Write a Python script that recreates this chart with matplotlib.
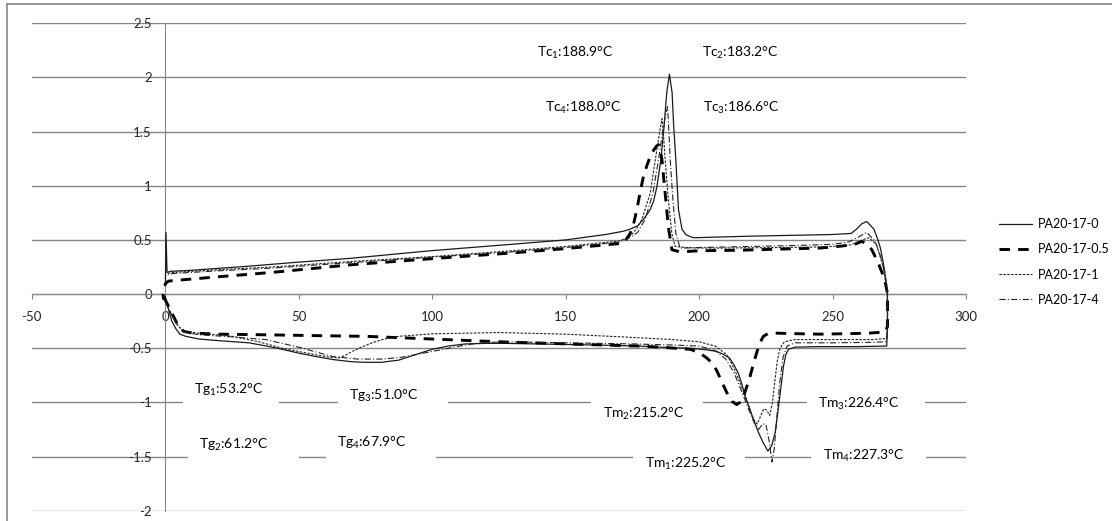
import numpy as np
import matplotlib
matplotlib.use("Agg")
import matplotlib.pyplot as plt
from matplotlib.lines import Line2D
from matplotlib.patches import Rectangle

plt.rcParams['font.family'] = ['Lato', 'DejaVu Sans']
plt.rcParams['mathtext.fontset'] = 'custom'
plt.rcParams['mathtext.rm'] = 'Lato'
plt.rcParams['mathtext.it'] = 'Lato'

names = ['PA20-17-0', 'PA20-17-0.5', 'PA20-17-1', 'PA20-17-4']

# each curve: heating branch (lower, 0 -> 270) then cooling branch (upper, 270 -> 0)
x0 = [0, 1, 2.5, 4, 5.5, 7.7, 12.7, 20, 31.4, 38, 43.9, 50, 56.3, 63, 70, 75, 81, 87.5, 93, 100,
      106, 112.5, 120, 127.4, 150, 170, 178, 185, 196.7, 203, 206.7, 209, 211.4, 213, 214.7, 216,
      217.3, 219, 220.4, 222.3, 224.1, 225.8, 227.2, 228.5, 229.3, 230.1, 231.6, 232.5, 233.5, 236,
      245, 260, 270.3,
      270.6, 270.5, 269.5, 268, 267, 265.5, 262.8, 261, 259, 257, 250, 240, 220, 205, 198, 196.7,
      195, 193.6, 192.3, 191.3, 190.5, 189.9, 188.9, 187.9, 186.9, 185.7, 184.2, 183, 181.7, 179.5,
      177, 174.2, 171.6, 165, 150, 130, 99.4, 69.4, 50, 30, 10, 2, 0.7, 0.3, 0.1]
y0 = [-0.02, -0.12, -0.25, -0.32, -0.37, -0.39, -0.415, -0.43, -0.45, -0.48, -0.51, -0.545, -0.576,
      -0.605, -0.625, -0.63, -0.63, -0.61, -0.565, -0.51, -0.48, -0.46, -0.455, -0.455, -0.465,
      -0.475, -0.48, -0.49, -0.5, -0.515, -0.53, -0.555, -0.59, -0.65, -0.73, -0.83, -0.945, -1.06,
      -1.16, -1.28, -1.376, -1.45, -1.4, -1.28, -1.13, -0.976, -0.67, -0.56, -0.51, -0.49, -0.485,
      -0.485, -0.48,
      -0.3, 0.0, 0.22, 0.42, 0.5, 0.6, 0.67, 0.65, 0.6, 0.56, 0.55, 0.545, 0.535, 0.525, 0.52, 0.53,
      0.55, 0.6, 0.78, 1.24, 1.55, 1.86, 2.03, 1.86, 1.55, 1.24, 0.99, 0.86, 0.78, 0.7, 0.63, 0.6,
      0.58, 0.55, 0.5, 0.46, 0.40, 0.33, 0.295, 0.255, 0.22, 0.21, 0.2, 0.57, 0.1]

x05 = [-0.5, 1, 3, 5, 7, 10.2, 20, 37.6, 60, 75.2, 100, 124.8, 150, 178, 185.4, 196.7, 200, 202.9,
       205, 206.7, 208.5, 210.4, 212.3, 214.1, 215.3, 216.6, 217.8, 219.1, 220.3, 221.6, 222.8,
       224.1, 225.8, 227.8, 235, 245, 257, 264, 269.5,
       270.6, 270.6, 269.6, 267.1, 264.7, 262.5, 260.9, 257.8, 250, 245.2, 230, 215, 200, 192.9,
       189.8, 188.5, 187.3, 186.1, 185.3, 184.8, 184.2, 183, 181.7, 180.5, 179.2, 178, 176.7, 175.5,
       174.2, 171.7, 150, 130, 99.4, 69.4, 40, 20, 3.3, 1.3, 0.2, -0.6, -0.8, -0.6]
y05 = [-0.03, -0.1, -0.2, -0.3, -0.345, -0.36, -0.37, -0.376, -0.385, -0.39, -0.415, -0.44, -0.46,
       -0.48, -0.49, -0.51, -0.54, -0.59, -0.64, -0.71, -0.81, -0.91, -0.99, -1.02, -1.0, -0.95,
       -0.86, -0.76, -0.65, -0.54, -0.45, -0.39, -0.365, -0.36, -0.365, -0.37, -0.365, -0.36, -0.35,
       -0.3, 0.0, 0.13, 0.29, 0.41, 0.47, 0.486, 0.455, 0.435, 0.425, 0.415, 0.405, 0.40, 0.39,
       0.41, 0.62, 0.93, 1.24, 1.35, 1.38, 1.37, 1.33, 1.27, 1.19, 1.09, 0.95, 0.78, 0.65, 0.56,
       0.47, 0.42, 0.38, 0.326, 0.27, 0.2, 0.16, 0.125, 0.12, 0.1, 0.05, 0.0, -0.05]

x1 = [-0.3, 1, 3, 5, 7, 12, 25.1, 35, 43.9, 50, 56.3, 61, 65, 67.5, 70, 73.5, 77.5, 82, 87.5, 100,
      124.9, 150, 175, 190, 200, 206, 210.4, 213, 215.4, 217.5, 219.1, 220.5, 221.8, 223, 224.2,
      225.3, 226.5, 227.5, 228.4, 229.3, 230.3, 232, 236, 250, 265, 270.2,
      270.6, 270.6, 269, 266.5, 263.7, 261, 257, 250, 245, 230, 210, 200, 195, 191, 189.8, 188.5,
      187.3, 186.6, 186.1, 185.2, 183.6, 181.7, 178.6, 176.5, 174, 170, 150, 130, 99.4, 69.4, 40,
      20, 3, 0.5]
y1 = [-0.05, -0.12, -0.22, -0.3, -0.34, -0.36, -0.39, -0.44, -0.5, -0.53, -0.56, -0.58, -0.59,
      -0.565, -0.53, -0.49, -0.45, -0.415, -0.39, -0.367, -0.355, -0.37, -0.4, -0.42, -0.44, -0.48,
      -0.56, -0.68, -0.82, -0.96, -1.07, -1.16, -1.2, -1.13, -1.06, -1.07, -1.12, -1.0, -0.8, -0.62,
      -0.5, -0.44, -0.42, -0.42, -0.42, -0.41,
      -0.3, 0.0, 0.25, 0.455, 0.52, 0.5, 0.455, 0.44, 0.435, 0.43, 0.425, 0.425, 0.43, 0.44, 0.56,
      0.87, 1.24, 1.5, 1.62, 1.49, 1.24, 0.93, 0.69, 0.6, 0.53, 0.49, 0.44, 0.4, 0.345, 0.3, 0.25,
      0.225, 0.2, 0.19]

x4 = [-0.3, 1, 3, 5, 7, 12.7, 25, 37.6, 50, 62.6, 72, 81.3, 88, 93.7, 100, 106.2, 112.5, 118.7,
      127.4, 150, 175, 190, 200, 206, 210, 213, 216, 218.5, 220.5, 222.3, 223.8, 225, 226.3, 227.3,
      228.2, 229.2, 230.2, 231.5, 233, 236, 250, 265, 270.2,
      270.6, 270.6, 270.3, 268.4, 265.9, 262.8, 260, 256, 250, 245, 230, 210, 200, 195, 192.9,
      191.3, 190.2, 189.2, 188.7, 188.2, 187.5, 186.7, 184.8, 182.7, 179.8, 177, 174, 170, 150,
      130, 99.4, 69.4, 40, 20, 3, 0.5]
y4 = [-0.05, -0.12, -0.22, -0.3, -0.35, -0.376, -0.395, -0.42, -0.49, -0.576, -0.6, -0.6, -0.585,
      -0.56, -0.53, -0.5, -0.47, -0.45, -0.44, -0.45, -0.46, -0.47, -0.48, -0.52, -0.6, -0.72, -0.9,
      -1.06, -1.18, -1.25, -1.2, -1.2, -1.36, -1.55, -1.42, -1.12, -0.82, -0.58, -0.48, -0.45,
      -0.45, -0.445, -0.44,
      -0.3, 0.0, 0.1, 0.32, 0.49, 0.57, 0.53, 0.48, 0.46, 0.455, 0.445, 0.435, 0.43, 0.425, 0.425,
      0.56, 0.87, 1.24, 1.5, 1.73, 1.66, 1.55, 1.24, 0.93, 0.69, 0.57, 0.52, 0.48, 0.43, 0.39,
      0.34, 0.29, 0.24, 0.215, 0.19, 0.18]

# peak labels: text, left x of text, y centre
tc_labels = ['Tc$_1$:188.9°C', 'Tc$_2$:183.2°C', 'Tc$_4$:188.0°C', 'Tc$_3$:186.6°C']
tc_x = [139.4, 201.2, 142.4, 201.5]
tc_y = [2.23, 2.23, 1.72, 1.72]

# labels sitting on white boxes that hide the grid lines: text, box left, box right, text left, y centre
box_labels = ['Tg$_1$:53.2°C', 'Tg$_3$:51.0°C', 'Tg$_2$:61.2°C', 'Tg$_4$:67.9°C',
              'Tm$_2$:215.2°C', 'Tm$_3$:226.4°C', 'Tm$_1$:225.2°C', 'Tm$_4$:227.3°C']
box_l = [6.5, 64.9, 8.4, 60.4, 159.6, 240.4, 175.3, 241.9]
box_r = [42.5, 106.1, 50.3, 101.6, 201.5, 284.6, 217.3, 284.9]
box_tx = [10.7, 69.0, 12.5, 64.2, 164.0, 244.6, 179.8, 246.4]
box_y = [-0.885, -0.94, -1.39, -1.37, -1.105, -1.013, -1.567, -1.493]

grey = '#868686'

fig = plt.figure(figsize=(11.12, 5.21), dpi=100)
ax = fig.add_axes([31.7 / 1112, 1 - 510.7 / 521, (966 - 31.7) / 1112, (510.7 - 23.3) / 521])

ax.plot(x0, y0, color='#1a1a1a', lw=0.9, label=names[0], zorder=3)
ax.plot(x05, y05, color='black', lw=2.1, linestyle=(0, (3.6, 2.8)), label=names[1], zorder=3)
ax.plot(x1, y1, color='#222222', lw=0.8, linestyle=(0, (2.2, 1.3)), label=names[2], zorder=3)
ax.plot(x4, y4, color='#222222', lw=0.8, linestyle=(0, (5.5, 2, 1, 2)), label=names[3], zorder=3)

ax.set_xlim(-50, 300)
ax.set_ylim(-2, 2.5)
ax.set_xticks(np.arange(-50, 301, 50))
ax.set_xticklabels(['-50', '0', '50', '100', '150', '200', '250', '300'])
ax.set_yticks(np.arange(-2, 2.51, 0.5))
ax.set_yticklabels(['-2', '-1.5', '-1', '-0.5', '0', '0.5', '1', '1.5', '2', '2.5'])

ax.grid(axis='y', color=grey, lw=1.0)
ax.set_axisbelow(True)
for s in ['top', 'right']:
    ax.spines[s].set_visible(False)
ax.spines['left'].set_position(('data', 0))
ax.spines['bottom'].set_position(('data', 0))
ax.spines['left'].set_color(grey)
ax.spines['bottom'].set_color(grey)
ax.tick_params(axis='y', length=0, pad=9.5, labelsize=9.5, labelcolor='#262626')
ax.tick_params(axis='x', length=3.5, width=0.8, color=grey, direction='out', pad=9,
               labelsize=9.5, labelcolor='#262626')

for t, x, y in zip(tc_labels, tc_x, tc_y):
    ax.text(x, y, t, ha='left', va='center', fontsize=10, color='black')

for t, l, r, tx, y in zip(box_labels, box_l, box_r, box_tx, box_y):
    ax.add_patch(Rectangle((l, y - 0.15), r - l, 0.3, facecolor='white', edgecolor='none', zorder=1.5))
    ax.text(tx, y, t, ha='left', va='center', fontsize=10, color='black', zorder=4)

ax.legend(loc='center left', bbox_to_anchor=(999 / 1112, 1 - 262 / 521),
          bbox_transform=fig.transFigure, frameon=False, fontsize=9,
          handlelength=2.6, handletextpad=0.5, labelspacing=1.05,
          borderpad=0, borderaxespad=0)

# chart area border (cropped at right and bottom)
fig.add_artist(Line2D([7 / 1112, 7 / 1112], [0, 1 - 4.3 / 521], color=grey, lw=1.2))
fig.add_artist(Line2D([7 / 1112, 1], [1 - 4.3 / 521, 1 - 4.3 / 521], color=grey, lw=1.2))

fig.savefig('out.png', dpi=100)
